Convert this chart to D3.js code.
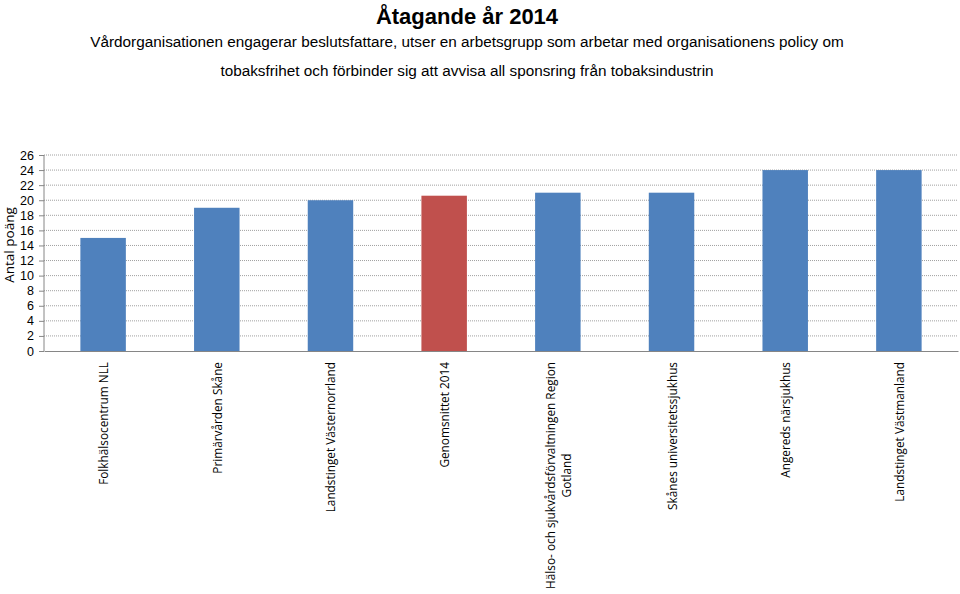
<!DOCTYPE html>
<html><head><meta charset="utf-8">
<script src="https://cdn.jsdelivr.net/npm/d3@7"></script>
<style>body{margin:0;background:#fff}svg{display:block}</style>
</head><body>
<script>
const categories = ["Folkhälsocentrum NLL","Primärvården Skåne","Landstinget Västernorrland","Genomsnittet 2014","Hälso- och sjukvårdsförvaltningen Region\nGotland","Skånes universitetssjukhus","Angereds närsjukhus","Landstinget Västmanland"];
const values = [15, 19, 20, 20.6, 21, 21, 24, 24];
const highlight = ["Genomsnittet 2014"];
const yTicks = d3.range(0, 27, 2);
const title = "Åtagande år 2014";
const subtitle = ["Vårdorganisationen engagerar beslutsfattare, utser en arbetsgrupp som arbetar med organisationens policy om","tobaksfrihet och förbinder sig att avvisa all sponsring från tobaksindustrin"];
const yLabel = "Antal poäng";

const W = 960, H = 594;
const svg = d3.select("body").append("svg").attr("width", W).attr("height", H);
const m = {left: 44, right: 2, top: 155, bottom: 243};
const x = d3.scaleBand().domain(categories).range([m.left, W - m.right]).paddingInner(0.6).paddingOuter(0.32);
const y = d3.scaleLinear().domain([0, 26]).range([H - m.bottom, m.top]);

// gridlines
svg.append("g").selectAll("line").data(yTicks.filter(d => d > 0)).join("line")
  .attr("x1", m.left).attr("x2", W - m.right)
  .attr("y1", d => y(d)).attr("y2", d => y(d))
  .attr("stroke", "#a0a0a0").attr("stroke-width", 1).attr("stroke-dasharray", "1,1");

// bars
svg.append("g").selectAll("rect").data(categories).join("rect")
  .attr("x", d => x(d)).attr("width", x.bandwidth())
  .attr("y", (d, i) => y(values[i])).attr("height", (d, i) => y(0) - y(values[i]))
  .attr("fill", d => highlight.includes(d) ? "#c0504d" : "#4f81bd");

// y axis
const ya = svg.append("g").attr("transform", `translate(${m.left},0)`)
  .call(d3.axisLeft(y).tickValues(yTicks).tickSize(5).tickPadding(5));
ya.select(".domain").attr("stroke", "#868686").attr("d", `M0,${y(26)}V${y(0)}`);
ya.selectAll(".tick line").attr("stroke", "#868686");
ya.selectAll("text").attr("font-family", "Liberation Sans, Arial, sans-serif").attr("font-size", 12.5).attr("fill", "#000");

// x axis
const xa = svg.append("g").attr("transform", `translate(0,${y(0)})`)
  .call(d3.axisBottom(x).tickSize(0).tickFormat(""));
xa.select(".domain").attr("stroke", "#868686");

// category labels
const lab = svg.append("g").selectAll("text").data(categories).join("text")
  .attr("transform", d => `translate(${x(d) + x.bandwidth()/2 + 1},${y(0) + 11}) rotate(-90)`)
  .attr("text-anchor", "end")
  .attr("font-family", "Open Sans, Liberation Sans, sans-serif").attr("font-size", 11.8).attr("fill", "#000");
lab.each(function(d) {
  const lines = d.split("\n");
  const t = d3.select(this);
  const off = (lines.length - 1) * 15.5 / 2;
  lines.forEach((l, i) => {
    t.append("tspan").attr("x", 0).attr("y", -off + i * 15.5 + 4).text(l);
  });
  if (lines.length > 1) {
    const spans = t.selectAll("tspan").nodes();
    const maxW = d3.max(spans, s => s.getComputedTextLength());
    spans.forEach(s => {
      const w = s.getComputedTextLength();
      d3.select(s).attr("x", -(maxW - w) / 2);
    });
  }
});

// y label
svg.append("text").attr("transform", `translate(14,245) rotate(-90)`)
  .attr("text-anchor", "middle").attr("font-family", "Open Sans, Liberation Sans, sans-serif")
  .attr("font-size", 13.5).text(yLabel);

// title
svg.append("text").attr("x", 467).attr("y", 24).attr("text-anchor", "middle")
  .attr("font-family", "Liberation Sans, Arial, sans-serif").attr("font-weight", "bold").attr("font-size", 22).text(title);
subtitle.forEach((s, i) => {
  svg.append("text").attr("x", 467).attr("y", 47 + i * 29).attr("text-anchor", "middle")
    .attr("font-family", "Liberation Sans, Arial, sans-serif").attr("font-size", 15.3).text(s);
});
</script>
</body></html>
